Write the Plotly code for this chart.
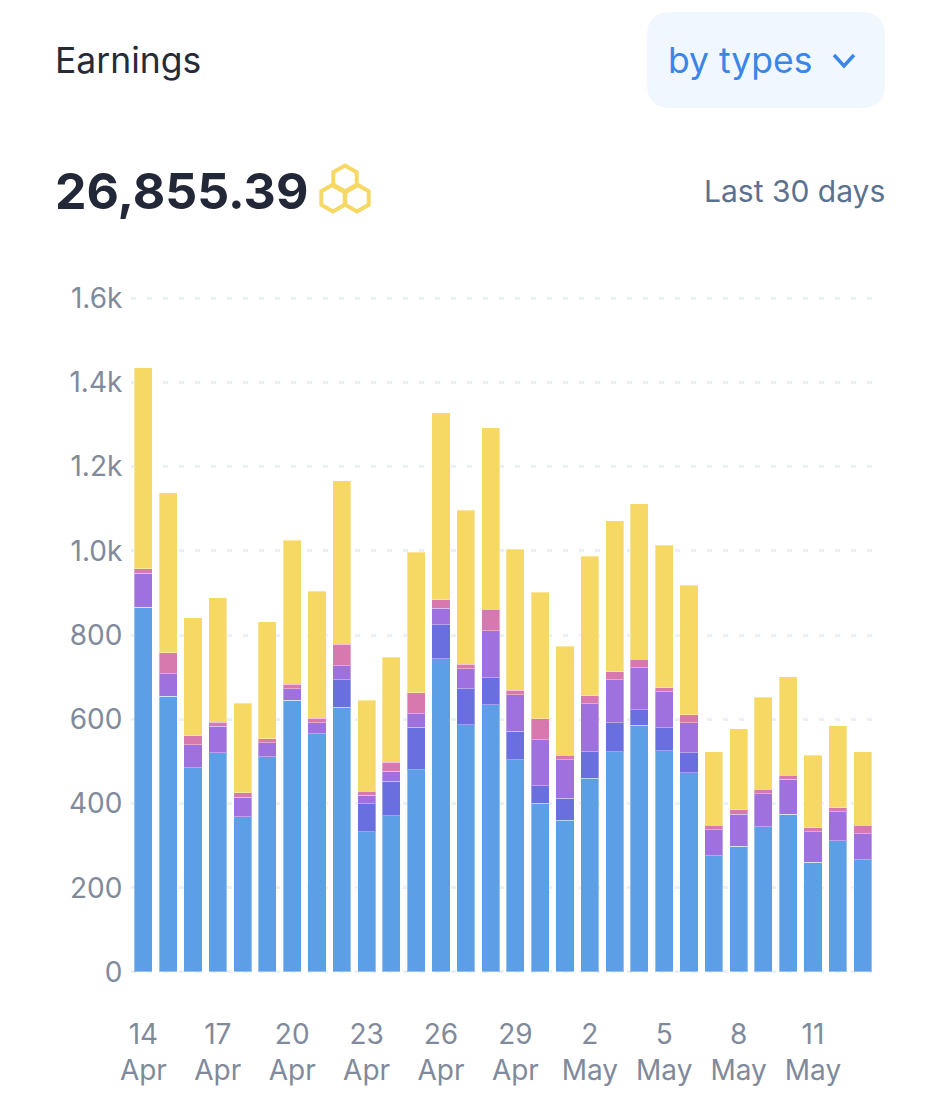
import math
import plotly.graph_objects as go

W = 933
H = 1118

days = ['14 Apr', '15 Apr', '16 Apr', '17 Apr', '18 Apr', '19 Apr', '20 Apr', '21 Apr', '22 Apr', '23 Apr',
        '24 Apr', '25 Apr', '26 Apr', '27 Apr', '28 Apr', '29 Apr', '30 Apr', '1 May', '2 May', '3 May',
        '4 May', '5 May', '6 May', '7 May', '8 May', '9 May', '10 May', '11 May', '12 May', '13 May']

blue = [866, 655, 485, 521, 368, 511, 645, 566, 628, 333, 371, 480, 744, 587, 635,
        504, 400, 360, 460, 523, 586, 525, 473, 276, 299, 345, 374, 260, 312, 266]
indigo = [0, 0, 0, 0, 0, 0, 0, 0, 66, 66, 82, 101, 80, 86, 63,
          67, 42, 53, 63, 69, 36, 55, 47, 0, 0, 0, 0, 0, 0, 0]
purple = [81, 53, 55, 62, 47, 33, 27, 26, 33, 20, 24, 32, 40, 47, 112,
          87, 109, 91, 114, 102, 100, 85, 72, 62, 76, 78, 83, 73, 69, 62]
pink = [10, 50, 21, 10, 10, 10, 11, 10, 51, 10, 21, 50, 20, 10, 51,
        11, 50, 10, 19, 19, 20, 10, 19, 10, 10, 11, 10, 10, 9, 20]
yellow = [478, 380, 280, 296, 213, 278, 342, 302, 388, 216, 249, 333, 444, 366, 431,
          334, 300, 259, 331, 358, 370, 338, 307, 175, 193, 218, 234, 172, 195, 175]

y_ticks = [0, 200, 400, 600, 800, 1000, 1200, 1400, 1600]
y_labels = ['0', '200', '400', '600', '800', '1.0k', '1.2k', '1.4k', '1.6k']
x_ticks = days[::3]
x_labels = [d.replace(' ', '<br>') for d in x_ticks]

series = [(blue, '#5c9fe6'), (indigo, '#6a6fdf'), (purple, '#9f71de'), (pink, '#d779ae'), (yellow, '#f6d964')]


# pixel position on the page -> paper coordinates
def px(x):
    return x / W


def py(y):
    return 1 - y / H


def hexagon(cx, cy, r):
    pts = []
    for i in range(6):
        a = math.radians(60 * i - 90)
        pts.append(f'{px(cx + r * math.cos(a)):.5f},{py(cy + r * math.sin(a)):.5f}')
    return 'M' + ' L'.join(pts) + ' Z'


def button(x0, y0, x1, y1, r):
    # corners are approximated with quadratic curves
    return (f'M{px(x0 + r)},{py(y0)} L{px(x1 - r)},{py(y0)} Q{px(x1)},{py(y0)} {px(x1)},{py(y0 + r)} '
            f'L{px(x1)},{py(y1 - r)} Q{px(x1)},{py(y1)} {px(x1 - r)},{py(y1)} '
            f'L{px(x0 + r)},{py(y1)} Q{px(x0)},{py(y1)} {px(x0)},{py(y1 - r)} '
            f'L{px(x0)},{py(y0 + r)} Q{px(x0)},{py(y0)} {px(x0 + r)},{py(y0)} Z')


fig = go.Figure()
for values, color in series:
    fig.add_trace(go.Bar(x=days, y=values, marker=dict(color=color, line=dict(color='rgba(255,255,255,0.35)', width=1))))

fig.update_layout(
    width=W, height=H,
    margin=dict(l=0, r=0, t=0, b=0),
    paper_bgcolor='white', plot_bgcolor='white',
    barmode='stack', bargap=0.27,
    showlegend=False,
    font=dict(family='Inter', color='#7f8a9c', size=28),
)
fig.update_xaxes(
    automargin=False,
    domain=[px(131), px(875)],
    type='category', categoryorder='array', categoryarray=days,
    tickmode='array', tickvals=x_ticks, ticktext=x_labels,
    ticks='outside', ticklen=36, tickcolor='rgba(0,0,0,0)', tickangle=0,
    showgrid=False, zeroline=False, showline=False,
)
# small overshoot of the range so the 0 and 1.6k grid lines get drawn
fig.update_yaxes(
    automargin=False,
    domain=[py(973), py(297)],
    range=[-2.4, 1602.4],
    tickmode='array', tickvals=y_ticks, ticktext=y_labels,
    ticks='outside', ticklen=2, tickcolor='rgba(0,0,0,0)',
    showgrid=True, gridcolor='#e9f0f8', gridwidth=3, griddash='5px,11px',
    zeroline=False, showline=False,
)

# header
fig.add_shape(type='path', path=button(647, 12, 885, 108, 24), xref='paper', yref='paper',
              fillcolor='#f1f7fe', line_width=0, layer='below')
fig.add_shape(type='path', path=f'M{px(834)},{py(55)} L{px(844)},{py(66)} L{px(854)},{py(55)}',
              xref='paper', yref='paper', line=dict(color='#3a86e8', width=3.5))
for cx, cy in [(345, 179), (333, 198), (357, 198)]:
    fig.add_shape(type='path', path=hexagon(cx, cy, 13.5), xref='paper', yref='paper',
                  line=dict(color='#f6d964', width=4))

texts = [
    ('Earnings', 55, 60, 'left', 35.5, '#262a39', 400),
    ('by types', 668, 60, 'left', 35.5, '#3a86e8', 400),
    ('26,855.39', 55, 191, 'left', 50, '#232838', 700),
    ('Last 30 days', 885, 191, 'right', 30, '#5a7190', 400),
]
for text, x, y, anchor, size, color, weight in texts:
    fig.add_annotation(text=text, x=px(x), y=py(y), xref='paper', yref='paper', showarrow=False,
                       xanchor=anchor, yanchor='middle', borderpad=0, borderwidth=0,
                       font=dict(family='Inter', size=size, color=color, weight=weight))

fig.write_html('out.html', post_script="document.body.style.margin='0';", config={'displayModeBar': False})
